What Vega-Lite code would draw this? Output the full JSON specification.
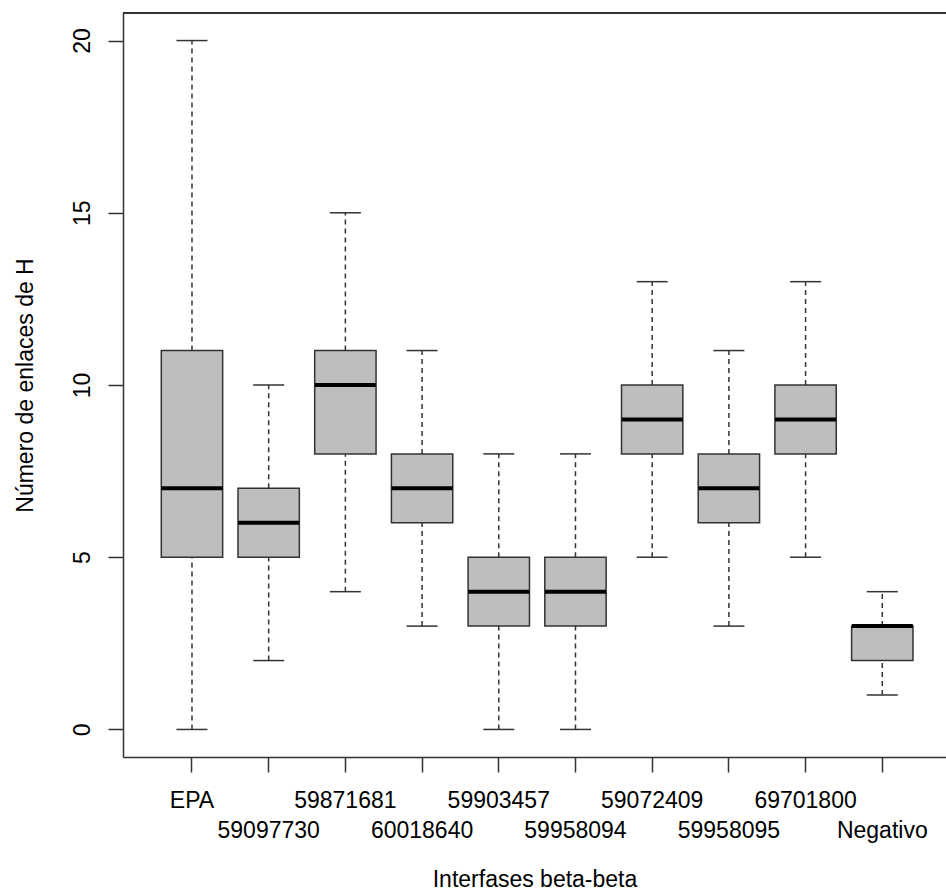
{
  "$schema": "https://vega.github.io/schema/vega-lite/v6.json",
  "width": 823,
  "height": 744,
  "autosize": "none",
  "padding": {"left": 123, "top": 13, "right": 0, "bottom": 135},
  "config": {
    "font": "Liberation Sans",
    "view": {"stroke": null},
    "axis": {
      "grid": false,
      "domain": true,
      "domainColor": "#333",
      "domainWidth": 1.5,
      "tickColor": "#333",
      "tickWidth": 1.5,
      "tickSize": 15,
      "labelFont": "Liberation Sans",
      "labelFontSize": 23,
      "labelColor": "#000",
      "titleFont": "Liberation Sans",
      "titleFontSize": 23,
      "titleFontWeight": "normal",
      "titleColor": "#000"
    }
  },
  "data": {
    "values": [
      {"name": "EPA", "min": 0, "q1": 5, "median": 7, "q3": 11, "max": 20},
      {"name": "59097730", "min": 2, "q1": 5, "median": 6, "q3": 7, "max": 10},
      {"name": "59871681", "min": 4, "q1": 8, "median": 10, "q3": 11, "max": 15},
      {"name": "60018640", "min": 3, "q1": 6, "median": 7, "q3": 8, "max": 11},
      {"name": "59903457", "min": 0, "q1": 3, "median": 4, "q3": 5, "max": 8},
      {"name": "59958094", "min": 0, "q1": 3, "median": 4, "q3": 5, "max": 8},
      {"name": "59072409", "min": 5, "q1": 8, "median": 9, "q3": 10, "max": 13},
      {"name": "59958095", "min": 3, "q1": 6, "median": 7, "q3": 8, "max": 11},
      {"name": "69701800", "min": 5, "q1": 8, "median": 9, "q3": 10, "max": 13},
      {"name": "Negativo", "min": 1, "q1": 2, "median": 3, "q3": 3, "max": 4}
    ]
  },
  "layer": [
    {
      "encoding": {
        "x": {
          "field": "name",
          "type": "nominal",
          "sort": null,
          "scale": {"paddingInner": 0, "paddingOuter": 0.365, "align": 0.547},
          "axis": {
            "title": "Interfases beta-beta",
            "labelAngle": 0,
            "labelAlign": "center",
            "labelBaseline": "alphabetic",
            "labelPadding": {
              "condition": {"test": "datum.value === '59097730' || datum.value === '60018640' || datum.value === '59958094' || datum.value === '59958095' || datum.value === 'Negativo'", "value": 65},
              "value": 35
            },
            "labelOverlap": false,
            "labelBound": false,
            "titleY": 129,
            "titleBaseline": "alphabetic"
          }
        }
      },
      "layer": [
        {
          "mark": {"type": "rule", "stroke": "#333", "strokeWidth": 1.5, "strokeDash": [5, 4]},
          "encoding": {
            "y": {"field": "min", "type": "quantitative", "scale": {"domain": [-0.8, 20.8], "nice": false, "zero": false},
              "axis": {"title": "Número de enlaces de H", "values": [0, 5, 10, 15, 20], "labelAngle": 270, "labelAlign": "center", "labelBaseline": "alphabetic", "labelPadding": 19, "titleAngle": 270, "titleX": -91, "titleY": 372, "titleAlign": "center", "titleBaseline": "alphabetic"}},
            "y2": {"field": "q1"}
          }
        },
        {
          "mark": {"type": "rule", "stroke": "#333", "strokeWidth": 1.5, "strokeDash": [5, 4]},
          "encoding": {
            "y": {"field": "q3", "type": "quantitative", "scale": {"domain": [-0.8, 20.8], "nice": false, "zero": false},
              "axis": {"title": "Número de enlaces de H", "values": [0, 5, 10, 15, 20], "labelAngle": 270, "labelAlign": "center", "labelBaseline": "alphabetic", "labelPadding": 19, "titleAngle": 270, "titleX": -91, "titleY": 372, "titleAlign": "center", "titleBaseline": "alphabetic"}},
            "y2": {"field": "max"}
          }
        },
        {
          "mark": {"type": "bar", "width": {"band": 0.8}, "fill": "#BEBEBE", "stroke": "#333", "strokeWidth": 1.5},
          "encoding": {
            "y": {"field": "q1", "type": "quantitative", "scale": {"domain": [-0.8, 20.8], "nice": false, "zero": false},
              "axis": {"title": "Número de enlaces de H", "values": [0, 5, 10, 15, 20], "labelAngle": 270, "labelAlign": "center", "labelBaseline": "alphabetic", "labelPadding": 19, "titleAngle": 270, "titleX": -91, "titleY": 372, "titleAlign": "center", "titleBaseline": "alphabetic"}},
            "y2": {"field": "q3"}
          }
        },
        {
          "mark": {"type": "tick", "orient": "horizontal", "size": 61, "thickness": 4, "color": "#000", "opacity": 1},
          "encoding": {
            "y": {"field": "median", "type": "quantitative", "scale": {"domain": [-0.8, 20.8], "nice": false, "zero": false},
              "axis": {"title": "Número de enlaces de H", "values": [0, 5, 10, 15, 20], "labelAngle": 270, "labelAlign": "center", "labelBaseline": "alphabetic", "labelPadding": 19, "titleAngle": 270, "titleX": -91, "titleY": 372, "titleAlign": "center", "titleBaseline": "alphabetic"}}
          }
        },
        {
          "mark": {"type": "tick", "orient": "horizontal", "size": 31, "thickness": 1.5, "color": "#333", "opacity": 1},
          "encoding": {
            "y": {"field": "min", "type": "quantitative", "scale": {"domain": [-0.8, 20.8], "nice": false, "zero": false},
              "axis": {"title": "Número de enlaces de H", "values": [0, 5, 10, 15, 20], "labelAngle": 270, "labelAlign": "center", "labelBaseline": "alphabetic", "labelPadding": 19, "titleAngle": 270, "titleX": -91, "titleY": 372, "titleAlign": "center", "titleBaseline": "alphabetic"}}
          }
        },
        {
          "mark": {"type": "tick", "orient": "horizontal", "size": 31, "thickness": 1.5, "color": "#333", "opacity": 1},
          "encoding": {
            "y": {"field": "max", "type": "quantitative", "scale": {"domain": [-0.8, 20.8], "nice": false, "zero": false},
              "axis": {"title": "Número de enlaces de H", "values": [0, 5, 10, 15, 20], "labelAngle": 270, "labelAlign": "center", "labelBaseline": "alphabetic", "labelPadding": 19, "titleAngle": 270, "titleX": -91, "titleY": 372, "titleAlign": "center", "titleBaseline": "alphabetic"}}
          }
        }
      ]
    },
    {
      "mark": {"type": "rule", "stroke": "#333", "strokeWidth": 1.5},
      "encoding": {
        "y": {"datum": 20.8, "type": "quantitative", "scale": {"domain": [-0.8, 20.8], "nice": false, "zero": false},
          "axis": {"title": "Número de enlaces de H", "values": [0, 5, 10, 15, 20], "labelAngle": 270, "labelAlign": "center", "labelBaseline": "alphabetic", "labelPadding": 19, "titleAngle": 270, "titleX": -91, "titleY": 372, "titleAlign": "center", "titleBaseline": "alphabetic"}}
      }
    }
  ]
}
